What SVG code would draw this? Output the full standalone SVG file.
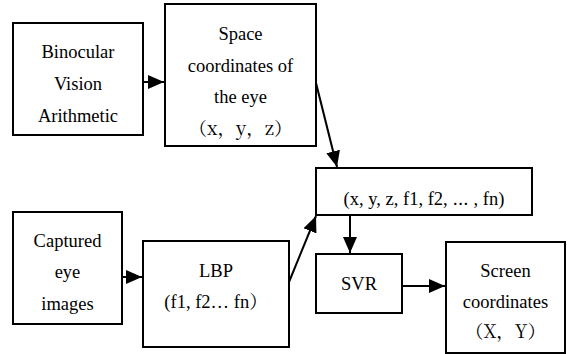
<svg xmlns="http://www.w3.org/2000/svg" width="570" height="354" viewBox="0 0 570 354">
<style>
.box{fill:#fff;stroke:#000;stroke-width:2}
.t{font-family:'Liberation Serif','Noto Serif CJK SC',serif;font-size:18.5px;fill:#000;text-anchor:middle}
.cjk{font-family:'Noto Serif CJK SC','Liberation Serif',serif}
.c{stroke:#000;stroke-width:2;fill:none}
</style>
<defs>
<marker id="ah" markerUnits="userSpaceOnUse" markerWidth="17" markerHeight="14" refX="16" refY="7" orient="auto">
<path d="M0,0 L16,7 L0,14 z" fill="#000"/>
</marker>
</defs>
<rect width="570" height="354" fill="#fff"/>
<g id="connectors">
<line class="c" x1="143" y1="82" x2="164" y2="82" marker-end="url(#ah)"/>
<line class="c" x1="316" y1="83" x2="337" y2="167" marker-end="url(#ah)"/>
<line class="c" x1="122" y1="277" x2="142" y2="277" marker-end="url(#ah)"/>
<line class="c" x1="289" y1="282" x2="316" y2="216" marker-end="url(#ah)"/>
<line class="c" x1="350" y1="215" x2="350" y2="253" marker-end="url(#ah)"/>
<line class="c" x1="402" y1="286" x2="445" y2="286" marker-end="url(#ah)"/>
</g>
<g id="binocular">
<rect class="box" x="13" y="23" width="130" height="112"/>
<text class="t" x="78" y="58">Binocular</text>
<text class="t" x="78" y="90">Vision</text>
<text class="t" x="78" y="122">Arithmetic</text>
</g>
<g id="space">
<rect class="box" x="165" y="4" width="151" height="142"/>
<text class="t" x="240.5" y="40">Space</text>
<text class="t" x="240.5" y="72">coordinates of</text>
<text class="t" x="240.5" y="103">the eye</text>
<text class="t cjk" x="240.5" y="135">（x，y，z）</text>
</g>
<g id="features">
<rect class="box" x="316" y="168" width="216" height="47"/>
<text class="t" x="424" y="205">(x, y, z, f1, f2, <tspan class="cjk">⋯</tspan> , fn)</text>
</g>
<g id="captured">
<rect class="box" x="13" y="212" width="109" height="112"/>
<text class="t" x="67.5" y="247">Captured</text>
<text class="t" x="67.5" y="278">eye</text>
<text class="t" x="67.5" y="310">images</text>
</g>
<g id="lbp">
<rect class="box" x="143" y="241" width="146" height="106"/>
<text class="t" x="216" y="277">LBP</text>
<text class="t" x="216" y="308">(f1, f2… fn）</text>
</g>
<g id="svr">
<rect class="box" x="316" y="254" width="86" height="59"/>
<text class="t" x="359" y="290">SVR</text>
</g>
<g id="screen">
<rect class="box" x="446" y="242" width="119" height="111"/>
<text class="t" x="505.5" y="277">Screen</text>
<text class="t" x="505.5" y="308">coordinates</text>
<text class="t cjk" x="505.5" y="338">（X，Y）</text>
</g>
</svg>
